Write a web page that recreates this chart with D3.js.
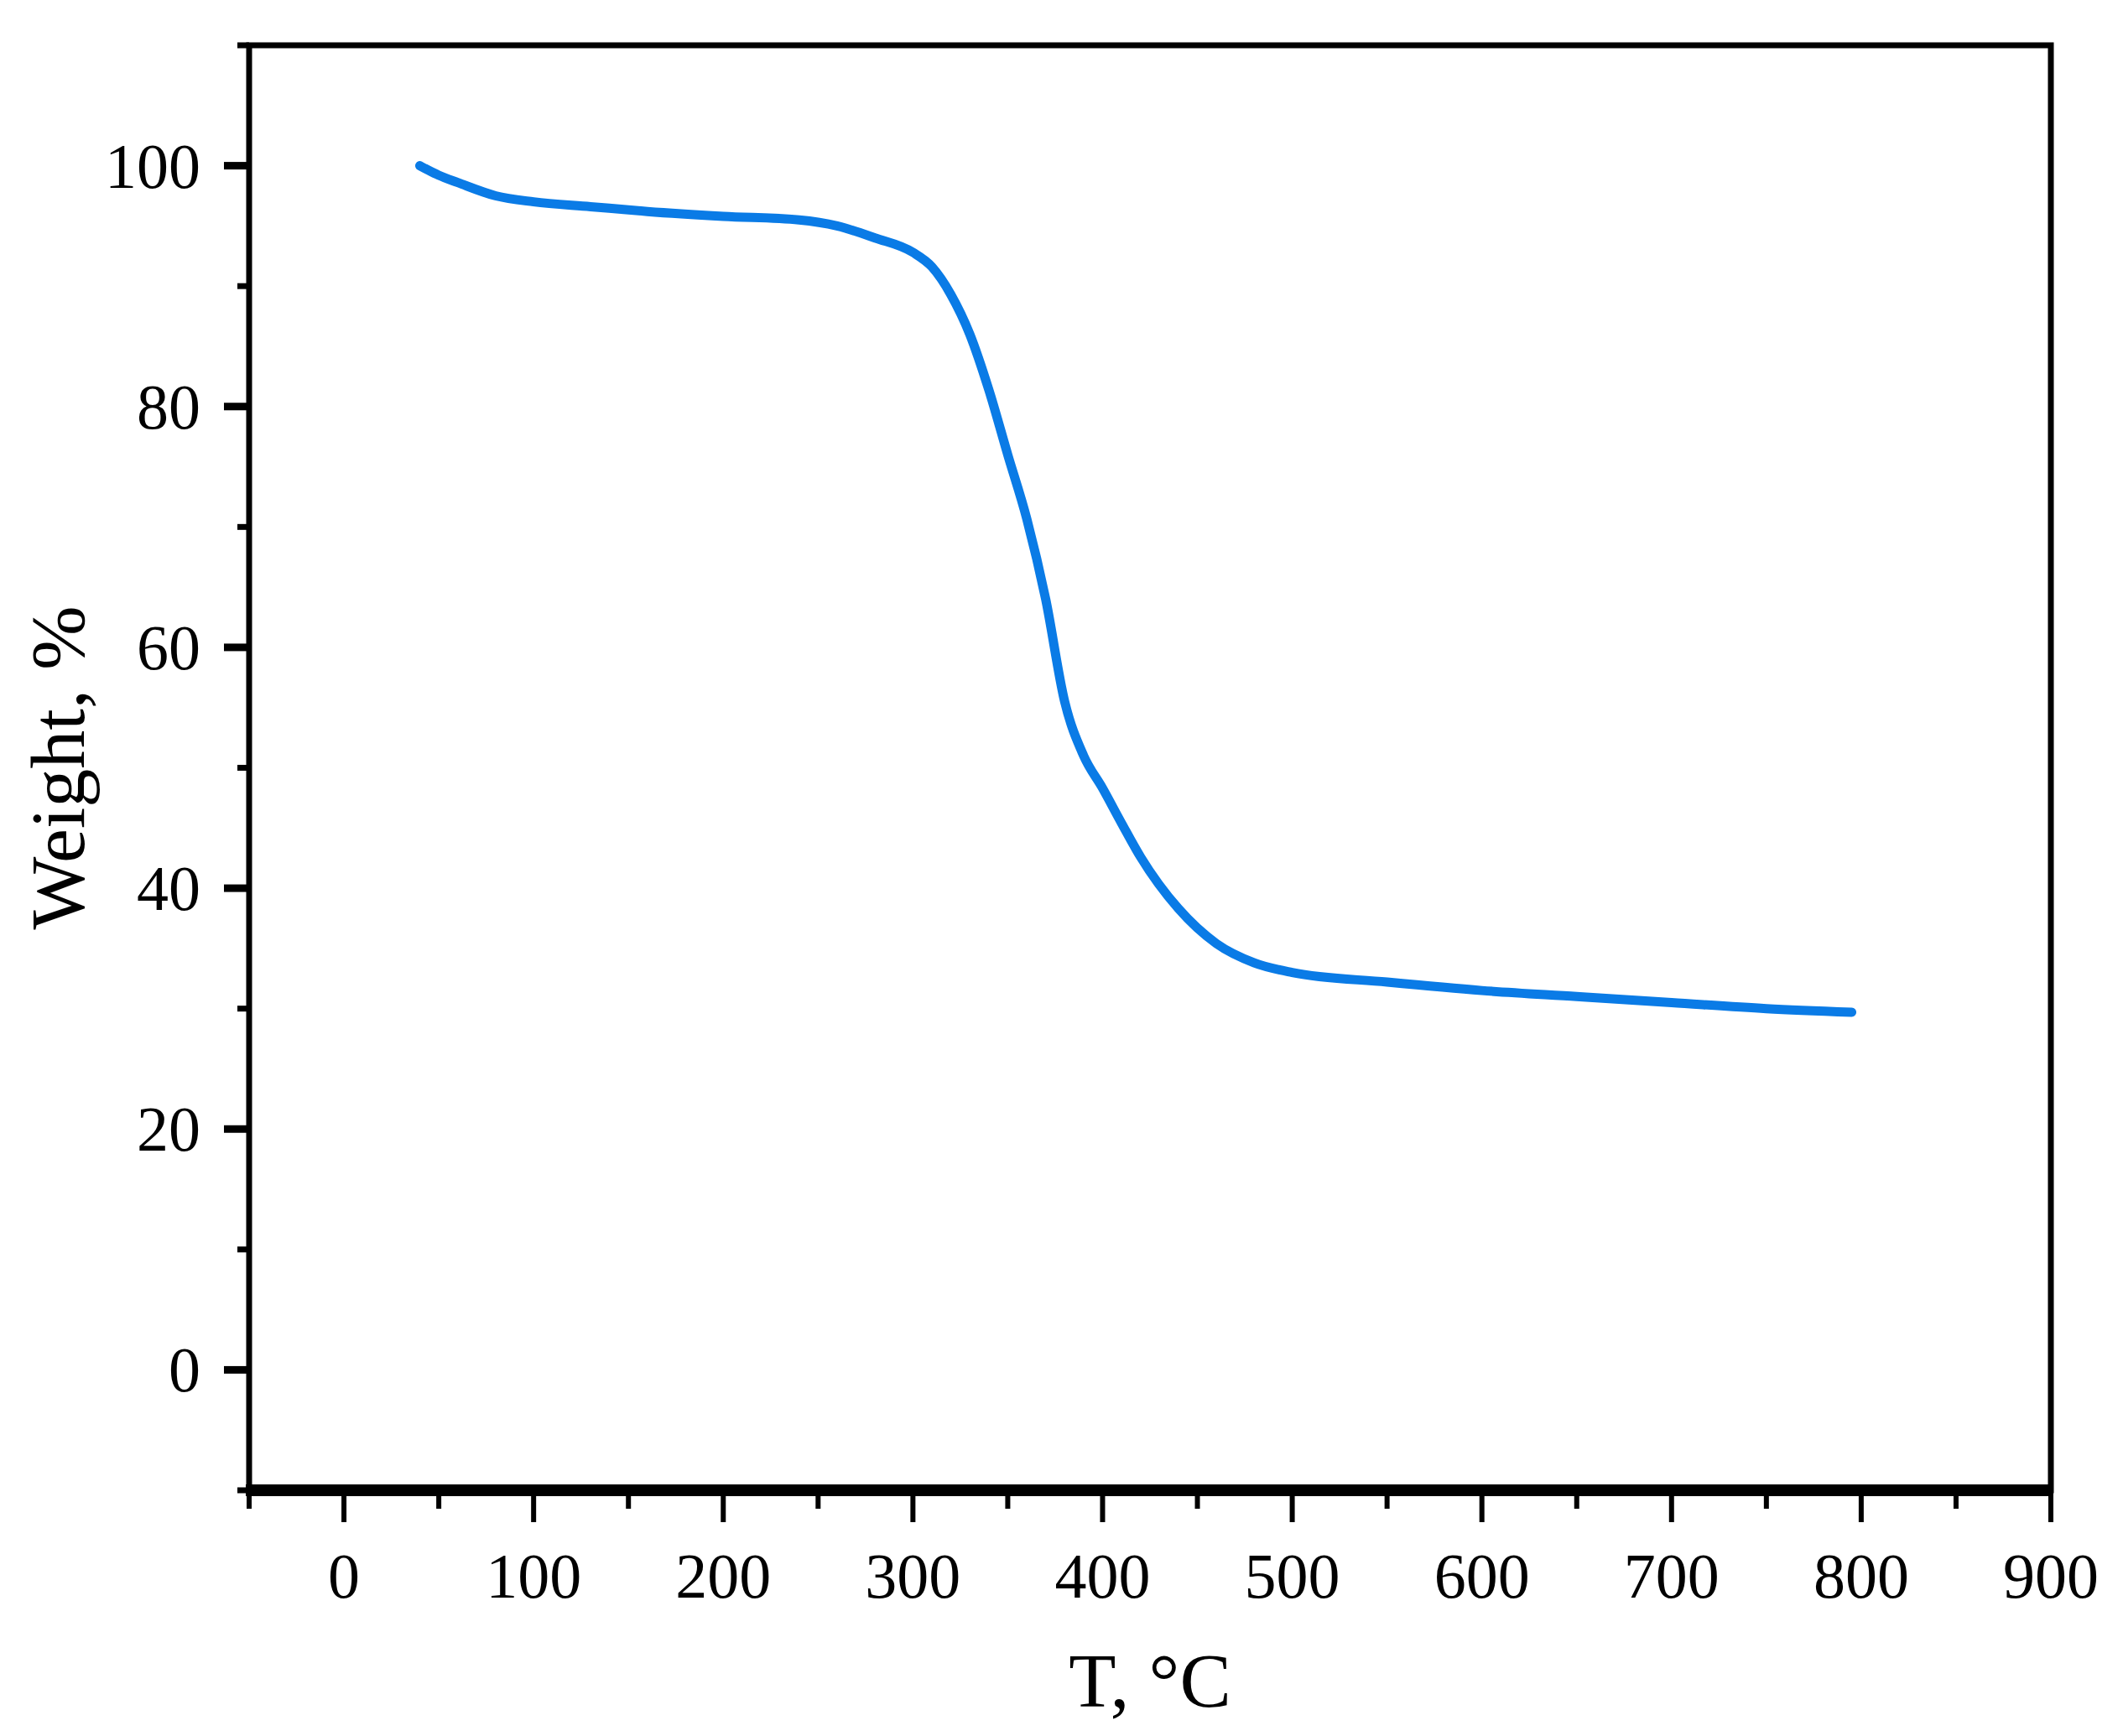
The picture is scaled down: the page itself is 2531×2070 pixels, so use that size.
<!DOCTYPE html><html><head><meta charset="utf-8"><script src="https://cdn.jsdelivr.net/npm/d3@7"></script>
<style>body{margin:0;background:#fff}text{font-family:"Liberation Serif","Times New Roman",serif;fill:#000}</style></head><body>
<svg id="c" width="2531" height="2070"></svg>
<script>
const temperature=[40,50,60,80,100,130,160,200,240,260,280,300,310,320,330,340,350,360,370,380,390,400,410,420,440,460,480,500,550,600,650,700,750,795];
const weight=[100,99.2,98.6,97.5,97.0,96.6,96.2,95.8,95.5,95.0,94.0,92.8,91.6,89.3,86.0,81.4,76.0,70.7,64.0,55.5,51.0,48.3,45.4,42.6,38.3,35.4,33.8,33.0,32.2,31.5,31,30.5,30.0,29.7];
const xTicks=[0,100,200,300,400,500,600,700,800,900];
const yTicks=[0,20,40,60,80,100];
const svg=d3.select("#c");
const L=297,R=2445,T=54,B=1777;
const x=d3.scaleLinear().domain([-50,900]).range([L,R]);
const y=d3.scaleLinear().domain([-10,110]).range([B,T]);
const xMinor=d3.range(-50,901,50).filter(v=>!xTicks.includes(v));
const yMinor=d3.range(-10,111,10).filter(v=>!yTicks.includes(v));
const g=svg.append("g");
g.selectAll(".xm").data(xMinor).join("line").attr("x1",d=>x(d)).attr("x2",d=>x(d)).attr("y1",B).attr("y2",B+22).attr("stroke","#000").attr("stroke-width",6);
g.selectAll(".xM").data(xTicks).join("line").attr("x1",d=>x(d)).attr("x2",d=>x(d)).attr("y1",B).attr("y2",B+38).attr("stroke","#000").attr("stroke-width",6);
g.selectAll(".ym").data(yMinor).join("line").attr("x1",L-14).attr("x2",L).attr("y1",d=>y(d)).attr("y2",d=>y(d)).attr("stroke","#000").attr("stroke-width",7);
g.selectAll(".yM").data(yTicks).join("line").attr("x1",L-30).attr("x2",L).attr("y1",d=>y(d)).attr("y2",d=>y(d)).attr("stroke","#000").attr("stroke-width",9);
g.selectAll(".xl").data(xTicks).join("text").attr("x",d=>x(d)).attr("y",B+128).attr("text-anchor","middle").attr("font-size",76).text(d=>d);
g.selectAll(".yl").data(yTicks).join("text").attr("x",L-58).attr("y",d=>y(d)+26).attr("text-anchor","end").attr("font-size",76).text(d=>d);
svg.append("rect").attr("x",L).attr("y",T).attr("width",R-L).attr("height",B-T).attr("fill","none").attr("stroke","#000").attr("stroke-width",7);
svg.append("line").attr("x1",L-4).attr("x2",R).attr("y1",B).attr("y2",B).attr("stroke","#000").attr("stroke-width",14);
svg.append("path").datum(temperature.map((t,i)=>[t,weight[i]])).attr("fill","none").attr("stroke","#0a7be6").attr("stroke-width",11).attr("stroke-linecap","round")
 .attr("d",d3.line().x(d=>x(d[0])).y(d=>y(d[1])).curve(d3.curveMonotoneX));
svg.append("text").attr("x",(L+R)/2).attr("y",2035).attr("text-anchor","middle").attr("font-size",92).text("T, °C");
svg.append("text").attr("transform",`translate(100,${(T+B)/2}) rotate(-90)`).attr("text-anchor","middle").attr("font-size",92).text("Weight, %");
</script></body></html>
